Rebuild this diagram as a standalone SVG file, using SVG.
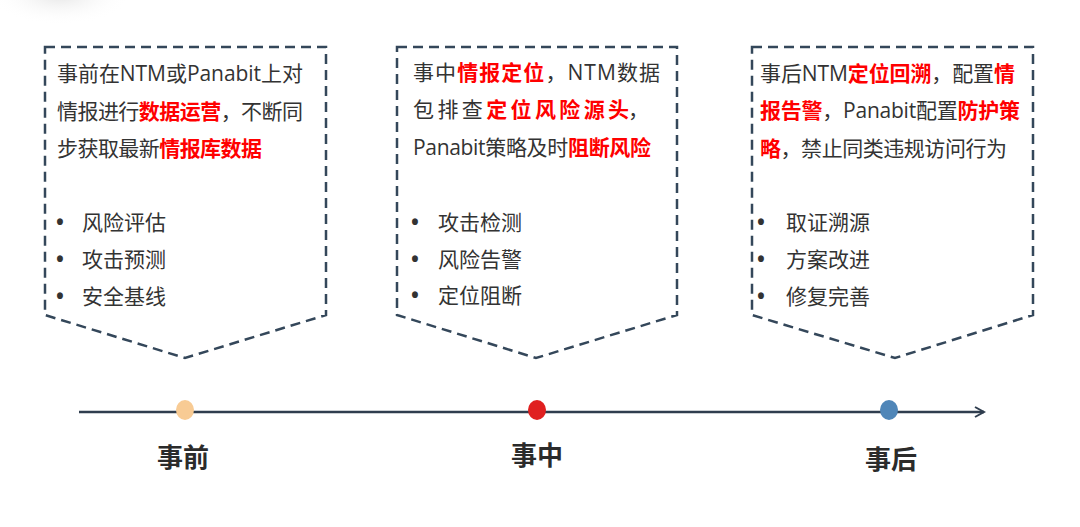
<svg xmlns="http://www.w3.org/2000/svg" width="1080" height="527" viewBox="0 0 1080 527">
<defs>
<style>
.box{fill:none;stroke:#34475A;stroke-width:2.5;stroke-dasharray:10 6;}
.t{font-family:"Open Sans","Noto Sans CJK SC",sans-serif;font-size:21px;fill:#333333;}
.b{font-weight:bold;}
.r{fill:#FF0000;font-weight:bold;}
.lbl{font-family:"Noto Sans CJK SC",sans-serif;font-size:26px;font-weight:bold;fill:#2B2B2B;text-anchor:middle;}
</style>
<radialGradient id="sh" cx="0.5" cy="0.5" r="0.5">
<stop offset="0" stop-color="#E6E6E6"/>
<stop offset="1" stop-color="#FFFFFF" stop-opacity="0"/>
</radialGradient>
<marker id="arr" viewBox="0 0 12 12" refX="10" refY="6" markerWidth="12" markerHeight="12" markerUnits="userSpaceOnUse" orient="auto">
<path d="M1,1 L10,6 L1,11" fill="none" stroke="#2F3D4E" stroke-width="2"/>
</marker>
</defs>
<rect width="1080" height="527" fill="#FFFFFF"/>
<ellipse cx="60" cy="-5" rx="70" ry="30" fill="url(#sh)"/>

<g id="node-before">
<path class="box" d="M45,47 H326 V315 L185,358 L45,315 Z"/>
<text class="t" x="57" y="81" textLength="246">事前在NTM或Panabit上对</text>
<text class="t" x="57" y="119" textLength="246">情报进行<tspan class="r">数据运营</tspan>，不断同</text>
<text class="t" x="57" y="156" textLength="205">步获取最新<tspan class="r">情报库数据</tspan></text>
<text class="t b" x="56" y="230">•</text><text class="t" x="82" y="230">风险评估</text>
<text class="t b" x="56" y="267">•</text><text class="t" x="82" y="267">攻击预测</text>
<text class="t b" x="56" y="304">•</text><text class="t" x="82" y="304">安全基线</text>
</g>

<g id="node-during">
<path class="box" d="M397,47 H677 V315 L536,358 L397,315 Z"/>
<text class="t" x="413" y="80" textLength="247">事中<tspan class="r">情报定位</tspan>，NTM数据</text>
<text class="t" x="413" y="117" textLength="236">包 排 查 <tspan class="r">定 位 风 险 源 头</tspan>，</text>
<text class="t" x="413" y="155" textLength="238">Panabit策略及时<tspan class="r">阻断风险</tspan></text>
<text class="t b" x="411" y="230">•</text><text class="t" x="438" y="230">攻击检测</text>
<text class="t b" x="411" y="267">•</text><text class="t" x="438" y="267">风险告警</text>
<text class="t b" x="411" y="303">•</text><text class="t" x="438" y="303">定位阻断</text>
</g>

<g id="node-after">
<path class="box" d="M752,47 H1033 V315 L895,358 L752,315 Z"/>
<text class="t" x="760" y="81" textLength="255">事后NTM<tspan class="r">定位回溯</tspan>，配置<tspan class="r">情</tspan></text>
<text class="t" x="760" y="118" textLength="260"><tspan class="r">报告警</tspan>，Panabit配置<tspan class="r">防护策</tspan></text>
<text class="t" x="760" y="156" textLength="247"><tspan class="r">略</tspan>，禁止同类违规访问行为</text>
<text class="t b" x="757" y="230">•</text><text class="t" x="786" y="230">取证溯源</text>
<text class="t b" x="757" y="267">•</text><text class="t" x="786" y="267">方案改进</text>
<text class="t b" x="757" y="304">•</text><text class="t" x="786" y="304">修复完善</text>
</g>

<g id="connectors">
<line x1="79" y1="412" x2="984" y2="412" stroke="#2F3D4E" stroke-width="2.5" marker-end="url(#arr)"/>
</g>

<g id="dot-before"><ellipse cx="185" cy="410" rx="9" ry="10" fill="#F8CB94"/></g>
<g id="dot-during"><ellipse cx="537" cy="410" rx="9" ry="10" fill="#E02020"/></g>
<g id="dot-after"><ellipse cx="889" cy="410" rx="9" ry="10" fill="#4F86B8"/></g>

<g id="label-before"><text class="lbl" x="183" y="467">事前</text></g>
<g id="label-during"><text class="lbl" x="537" y="465">事中</text></g>
<g id="label-after"><text class="lbl" x="891" y="469">事后</text></g>
</svg>
